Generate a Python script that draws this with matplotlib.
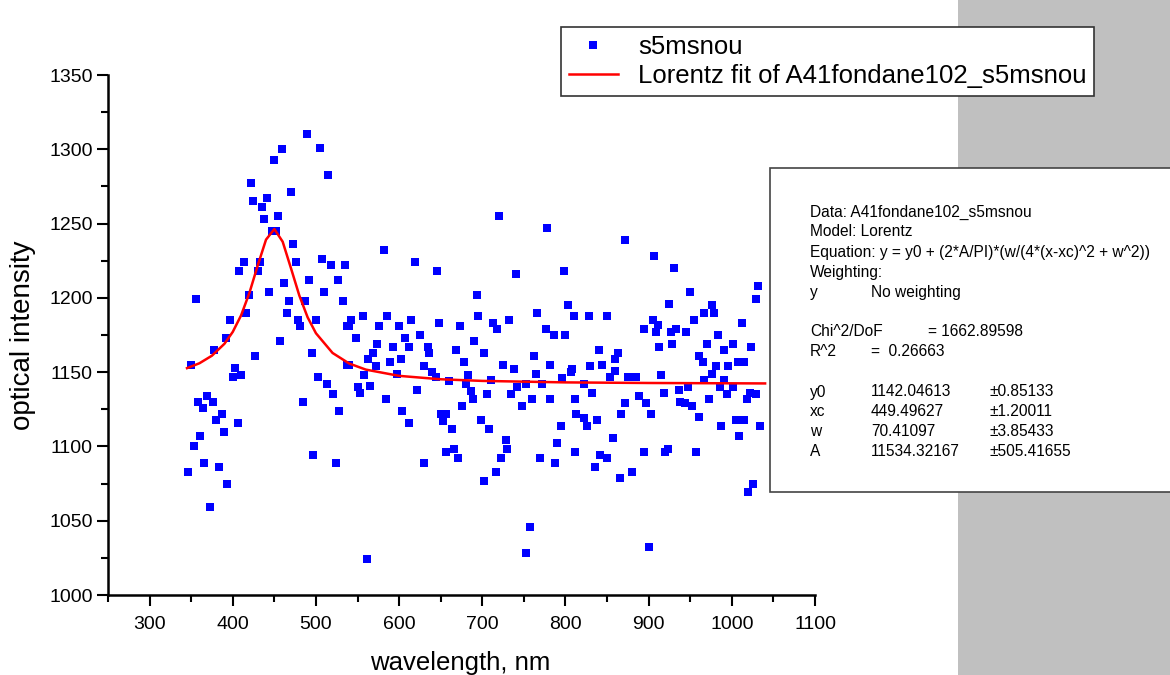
import matplotlib.pyplot as plt
from matplotlib.patches import Rectangle
from matplotlib.ticker import MultipleLocator

plt.rcParams['font.family'] = ['Liberation Sans', 'DejaVu Sans']

wl = [356, 378, 392, 397, 408, 413, 416, 419, 422, 424, 427, 430, 433, 435, 438,
      441, 444, 447, 449, 452, 454, 457, 459, 462, 465, 468, 470, 473, 476, 479,
      481, 487, 489, 492, 495, 500, 505, 507, 510, 515, 518, 526, 532, 535, 537,
      350, 537, 403, 400, 410, 358, 369, 376, 364, 387, 380, 389, 406, 361, 353,
      366, 346, 383, 393, 373, 503, 513, 521, 484, 528, 497, 524,
      720, 778, 582, 619, 645, 740, 798, 694, 803, 766, 810, 542, 556, 586, 614,
      648, 695, 713, 732, 540, 576, 600, 673, 718, 776, 786, 800, 548, 607, 625,
      574, 593, 612, 635, 690, 668, 702, 568, 762,
      589, 602, 563, 572, 540, 558, 597, 630, 636, 640, 644, 678, 683, 680, 660,
      686, 689, 710, 706, 725, 738, 764, 782, 772, 753, 742, 735, 760, 781, 796,
      807, 811, 748, 550, 553, 565, 584, 622, 604, 612, 650, 656, 653, 664, 675,
      698, 708, 728, 730, 722, 716, 702, 656, 666, 671, 630, 769, 788, 790, 795,
      813, 812, 757, 753, 561,
      872, 907, 931, 950, 1031, 1029, 924, 976, 828, 850, 967, 979, 955, 1012, 905,
      895, 911, 909, 927, 933, 945, 983, 840, 863, 859, 844, 830, 808, 913, 928,
      970, 990, 1002, 1023, 961, 965, 981, 996, 1007, 1015,
      860, 853, 875, 885, 915, 976, 966, 990, 822, 832, 889, 897, 903, 871, 867,
      918, 936, 947, 938, 944, 952, 960, 973, 986, 994, 1001, 1018, 1022, 1029, 822,
      826, 838, 857, 842, 850, 836, 866, 880, 894, 920, 923, 957, 987, 1005, 1015,
      1009, 1034, 1026, 1019, 900]
intensity = [1199, 1165, 1173, 1185, 1218, 1224, 1190, 1202, 1277, 1265, 1161, 1218, 1224, 1261, 1253,
             1267, 1204, 1245, 1293, 1245, 1255, 1171, 1300, 1210, 1190, 1198, 1271, 1236, 1224, 1185,
             1181, 1198, 1310, 1212, 1163, 1185, 1301, 1226, 1204, 1283, 1222, 1212, 1198, 1222, 1181,
             1155, 1155, 1153, 1147, 1148, 1130, 1134, 1130, 1126, 1122, 1118, 1110, 1116, 1107, 1100,
             1089, 1083, 1086, 1075, 1059, 1147, 1142, 1135, 1130, 1124, 1094, 1089,
             1255, 1247, 1232, 1224, 1218, 1216, 1218, 1202, 1195, 1190, 1188, 1185, 1188, 1188, 1185,
             1183, 1188, 1183, 1185, 1181, 1181, 1181, 1181, 1179, 1179, 1175, 1175, 1173, 1173, 1175,
             1169, 1167, 1167, 1167, 1171, 1165, 1163, 1163, 1161,
             1157, 1159, 1159, 1154, 1155, 1148, 1149, 1154, 1163, 1150, 1147, 1157, 1148, 1142, 1144,
             1137, 1132, 1145, 1135, 1155, 1152, 1149, 1155, 1142, 1142, 1140, 1135, 1132, 1132, 1146,
             1150, 1132, 1127, 1140, 1136, 1141, 1132, 1138, 1124, 1116, 1122, 1122, 1117, 1112, 1127,
             1118, 1112, 1104, 1098, 1092, 1083, 1077, 1096, 1098, 1092, 1089, 1092, 1089, 1102, 1114,
             1122, 1096, 1046, 1028, 1024,
             1239, 1228, 1220, 1204, 1208, 1199, 1196, 1195, 1188, 1188, 1190, 1190, 1185, 1183, 1185,
             1179, 1182, 1177, 1177, 1179, 1177, 1175, 1165, 1163, 1159, 1155, 1154, 1152, 1167, 1169,
             1169, 1165, 1169, 1167, 1161, 1157, 1154, 1154, 1157, 1157,
             1151, 1147, 1147, 1147, 1148, 1149, 1145, 1145, 1142, 1136, 1134, 1129, 1122, 1129, 1122,
             1136, 1138, 1140, 1130, 1129, 1127, 1120, 1132, 1140, 1135, 1140, 1132, 1136, 1135, 1119,
             1114, 1118, 1106, 1094, 1092, 1086, 1079, 1083, 1096, 1096, 1098, 1096, 1114, 1118, 1118,
             1107, 1114, 1075, 1069, 1032]

# Lorentz fit curve
fit_wl = [345, 360, 375, 390, 400, 410, 420, 430, 440, 450, 460, 470, 480, 490,
          500, 520, 540, 560, 600, 650, 700, 800, 900, 1040]
fit_int = [1152.7, 1156.0, 1161.1, 1169.1, 1177.1, 1188.2, 1203.3, 1221.8, 1239.2,
           1246.3, 1237.8, 1219.9, 1201.6, 1186.9, 1176.2, 1162.9, 1155.8, 1151.7,
           1147.5, 1145.2, 1144.1, 1143.1, 1142.7, 1142.4]

fit_lines = [
    ('Data: A41fondane102_s5msnou', None, None),
    ('Model: Lorentz', None, None),
    ('Equation: y = y0 + (2*A/PI)*(w/(4*(x-xc)^2 + w^2))', None, None),
    ('Weighting:', None, None),
    ('y', 'No weighting', None),
    ('', None, None),
    ('Chi^2/DoF', None, '= 1662.89598'),
    ('R^2', '=  0.26663', None),
    ('', None, None),
    ('y0', '1142.04613', '\u00b10.85133'),
    ('xc', '449.49627', '\u00b11.20011'),
    ('w', '70.41097', '\u00b13.85433'),
    ('A', '11534.32167', '\u00b1505.41655'),
]

W, H = 1170, 675
fig = plt.figure(figsize=(W / 100, H / 100), dpi=100)

# grey panel on the right
fig.patches.append(Rectangle((958 / W, 0), (W - 958) / W, 1, transform=fig.transFigure,
                             facecolor='#c0c0c0', edgecolor='none', zorder=0))

ax = fig.add_axes([108 / W, 1 - 595 / H, (815 - 108) / W, (595 - 75) / H])
ax.set_facecolor('none')
sc, = ax.plot(wl, intensity, 's', color='#0000ff', markersize=6.2, markeredgewidth=0,
              linestyle='none', label='s5msnou', clip_on=False)
ln, = ax.plot(fit_wl, fit_int, color='#ff0000', linewidth=1.8,
              label='Lorentz fit of A41fondane102_s5msnou')

ax.set_xlim(250, 1100)
ax.set_ylim(1000, 1350)
ax.xaxis.set_minor_locator(MultipleLocator(50))
ax.yaxis.set_major_locator(MultipleLocator(50))
ax.yaxis.set_minor_locator(MultipleLocator(25))
ax.set_xticks(range(300, 1101, 100))
for s in ['top', 'right']:
    ax.spines[s].set_visible(False)
for s in ['left', 'bottom']:
    ax.spines[s].set_linewidth(1.8)
ax.tick_params(which='major', direction='out', length=8, width=1.5, labelsize=14)
ax.tick_params(which='minor', direction='out', length=5, width=1.5)
ax.tick_params(axis='y', pad=3)
ax.tick_params(axis='x', pad=7)

ax.set_xlabel('wavelength, nm', fontsize=18.5)
ax.set_ylabel('optical intensity', fontsize=20)
ax.xaxis.set_label_coords(0.498, -0.108)
ax.yaxis.set_label_coords(-0.102, 0.5)

leg = fig.legend(handles=[sc, ln], loc='upper left',
                 bbox_to_anchor=(561 / W, 1 - 27 / H), fontsize=18.5,
                 frameon=True, fancybox=False, edgecolor='#333333',
                 handlelength=1.9, handletextpad=0.8, labelspacing=0.22,
                 borderpad=0.3, borderaxespad=0, numpoints=1, markerscale=1.0)
leg.get_frame().set_linewidth(1.2)
leg.get_frame().set_facecolor('white')
leg.get_frame().set_alpha(1)

# fit results box
fig.patches.append(Rectangle((770 / W, 1 - 492 / H), (W + 5 - 770) / W, (492 - 168) / H,
                             transform=fig.transFigure, facecolor='white',
                             edgecolor='#444444', linewidth=1.2, zorder=2))
y = 212
for c1, c2, c3 in fit_lines:
    if c1:
        fig.text(810 / W, 1 - y / H, c1, fontsize=11.2, va='center', zorder=3)
    if c2:
        fig.text(871 / W, 1 - y / H, c2, fontsize=11.2, va='center', zorder=3)
    if c3:
        x3 = 928 if c3.startswith('=') else 989
        fig.text(x3 / W, 1 - y / H, c3, fontsize=11.2, va='center', zorder=3)
    y += 20

fig.savefig('out.png', dpi=100)
